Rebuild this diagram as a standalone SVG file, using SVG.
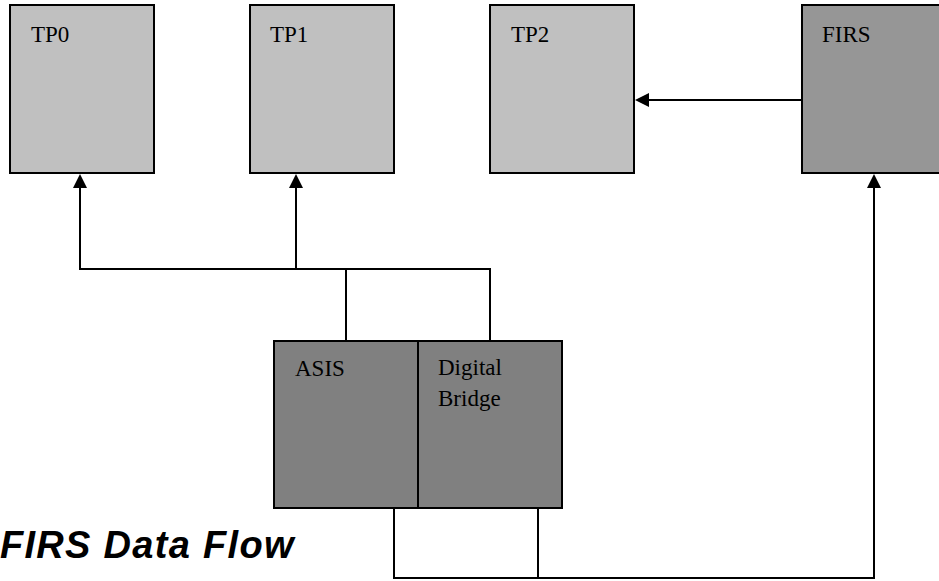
<svg xmlns="http://www.w3.org/2000/svg" width="939" height="581" viewBox="0 0 939 581">
<style>
.box{stroke:#000;stroke-width:2}
.tp{fill:#c0c0c0}
.firs{fill:#969696}
.dark{fill:#808080}
.lbl{font-family:"Liberation Serif","Times New Roman",serif;font-size:23px;fill:#000}
.conn{fill:none;stroke:#000;stroke-width:2}
.title{font-family:"Liberation Sans",Arial,sans-serif;font-size:38px;font-weight:bold;font-style:italic;letter-spacing:1.3px;fill:#000}
</style>
<defs>
<marker id="ah" viewBox="0 0 14 14" refX="4" refY="7" markerWidth="14" markerHeight="14" markerUnits="userSpaceOnUse" orient="auto">
<path d="M0,0 L14,7 L0,14 z" fill="#000"/>
</marker>
</defs>
<rect width="939" height="581" fill="#fff"/>
<g id="TP0"><rect class="box tp" x="10" y="5" width="144" height="168"/><text class="lbl" x="31" y="42">TP0</text></g>
<g id="TP1"><rect class="box tp" x="250" y="5" width="144" height="168"/><text class="lbl" x="270" y="42">TP1</text></g>
<g id="TP2"><rect class="box tp" x="490" y="5" width="144" height="168"/><text class="lbl" x="511" y="42">TP2</text></g>
<g id="FIRS"><rect class="box firs" x="802" y="5" width="160" height="168"/><text class="lbl" x="822" y="42">FIRS</text></g>
<g id="ASIS"><rect class="box dark" x="274" y="341" width="144" height="167"/><text class="lbl" x="295" y="376">ASIS</text></g>
<g id="DigitalBridge"><rect class="box dark" x="418" y="341" width="144" height="167"/><text class="lbl" x="438" y="375">Digital</text><text class="lbl" x="438" y="406">Bridge</text></g>
<g id="connectors">
<path class="conn" d="M346 341 V269 H80 V184" marker-end="url(#ah)"/>
<path class="conn" d="M296 269 V184" marker-end="url(#ah)"/>
<path class="conn" d="M490 341 V269 H346"/>
<path class="conn" d="M394 508 V578 H874 V184" marker-end="url(#ah)"/>
<path class="conn" d="M538 508 V578"/>
<path class="conn" d="M802 100 H645" marker-end="url(#ah)"/>
</g>
<text class="title" x="0" y="558">FIRS Data Flow</text>
</svg>
